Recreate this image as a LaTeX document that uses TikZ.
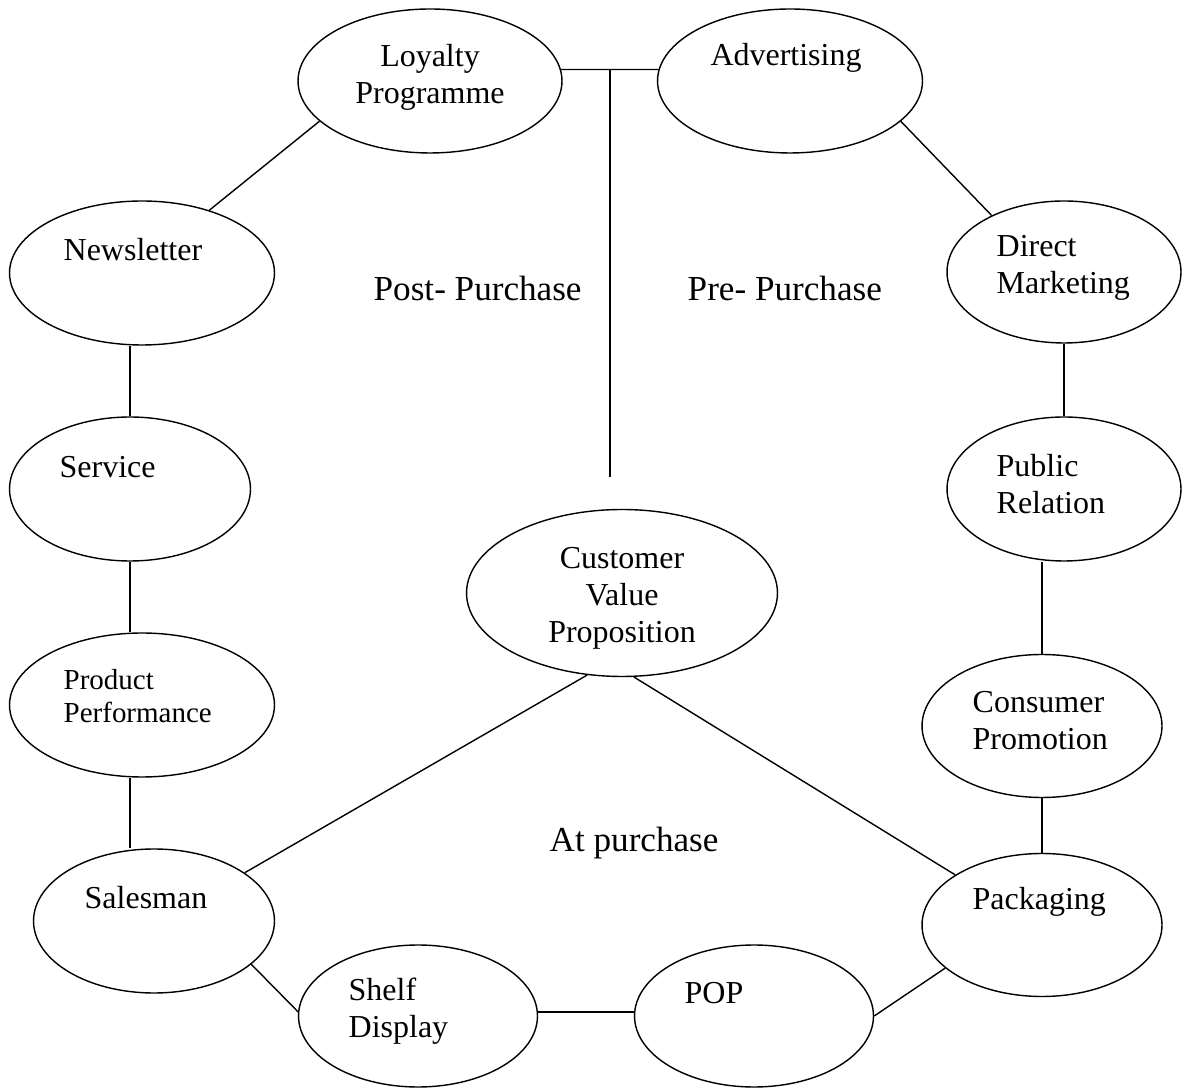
\documentclass[tikz,border=0pt]{standalone}
\usepackage{fontspec}
\setmainfont{Liberation Serif}
\usetikzlibrary{shapes.geometric}
\tikzset{
 oval/.style 2 args
  = {ellipse, draw, inner sep=0pt, minimum width=#1, minimum height=#2},
 txt/.style
  = {inner sep=0pt, font=\fontsize{18.2}{21}\selectfont},
 small/.style
  = {inner sep=0pt, font=\fontsize{16.5}{18.7}\selectfont},
 phase/.style
  = {inner sep=0pt, anchor=west, font=\fontsize{20}{24}\selectfont},
 l/.style
  = {draw, line width=0.8pt},
}

\begin{document}
\begin{tikzpicture}[x=0.02cm, y=0.02cm, line width=0.8pt]
\useasboundingbox (0,0) rectangle (1182,1088);

% Top pair
\node[oval={5.28cm}{2.88cm}] (loyal) at (430,1007) {};
\node[txt, align=center] (loyal-t) at (430,1011) {Loyalty\\Programme};
\node[oval={5.3cm}{2.88cm}] (advert) at (790,1007) {};
\node[txt] (advert-t) at (786,1030) {Advertising};

% Left column (post-purchase)
\node[oval={5.3cm}{2.88cm}] (news) at (142,815) {};
\node[txt, anchor=west] (news-t) at (63,838) {Newsletter};
\node[oval={4.82cm}{2.88cm}] (service) at (130,599) {};
\node[txt, anchor=west] (service-t) at (59,621) {Service};
\node[oval={5.3cm}{2.88cm}] (product) at (142,383) {};
\node[small, anchor=west, align=left] (product-t) at (63,392) {Product\\Performance};
\node[oval={4.82cm}{2.88cm}] (sales) at (154,167) {};
\node[txt, anchor=west] (sales-t) at (84,190) {Salesman};

% Right column (pre-purchase)
\node[oval={4.68cm}{2.84cm}] (direct) at (1064,816) {};
\node[txt, anchor=west, align=left] (direct-t) at (996,820) {Direct\\Marketing};
\node[oval={4.68cm}{2.88cm}] (public) at (1064,599) {};
\node[txt, anchor=west, align=left] (public-t) at (996,604) {Public\\Relation};
\node[oval={4.8cm}{2.86cm}] (consumer) at (1042,362) {};
\node[txt, anchor=west, align=left] (consumer-t) at (972,367) {Consumer\\Promotion};
\node[oval={4.8cm}{2.86cm}] (pack) at (1042,163) {};
\node[txt, anchor=west] (pack-t) at (972,186) {Packaging};

% Bottom row (at purchase)
\node[oval={4.78cm}{2.84cm}] (shelf) at (418,72) {};
\node[txt, anchor=west, align=left] (shelf-t) at (348,77) {Shelf\\Display};
\node[oval={4.78cm}{2.84cm}] (pop) at (754,72) {};
\node[txt, anchor=west] (pop-t) at (684,95) {POP};

% Centre
\node[oval={6.22cm}{3.34cm}] (cvp) at (622,495) {};
\node[txt, align=center] (cvp-t) at (622,490) {Customer\\Value\\Proposition};

% Phase labels
\node[phase] (post) at (373,800) {Post- Purchase};
\node[phase] (pre) at (687,800) {Pre- Purchase};
\node[phase] (at) at (549,245) {At purchase};

% Divider between the phases
\coordinate (stem) at (610,611);
\draw[l] (loyal.5) -- (advert.175);
\draw[l] (stem) -- (stem |- loyal.5);

% Ring of touch points
\draw[l] (loyal.200) -- (news.43);
\draw[l] (service.north) -- (service.north |- news.south);
\draw[l] (service.south) -- (service.south |- product.north);
\draw[l] (product.south -| service.south) -- (sales.north -| service.south);
\draw[l] (sales.-24) -- (shelf.178);
\draw[l] (shelf.2) -- (pop.178);
\draw[l] (pop.east) -- (pack.204);
\draw[l] (pack.north) -- (consumer.south);
\draw[l] (consumer.north) -- (consumer.north |- public.south);
\draw[l] (public.north) -- (direct.south);
\draw[l] (direct.142) -- (advert.-20);

% Links to the value proposition
\draw[l] (sales.28) -- (cvp.247);
\draw[l] (cvp.-82) -- (pack.150);

\end{tikzpicture}
\end{document}
